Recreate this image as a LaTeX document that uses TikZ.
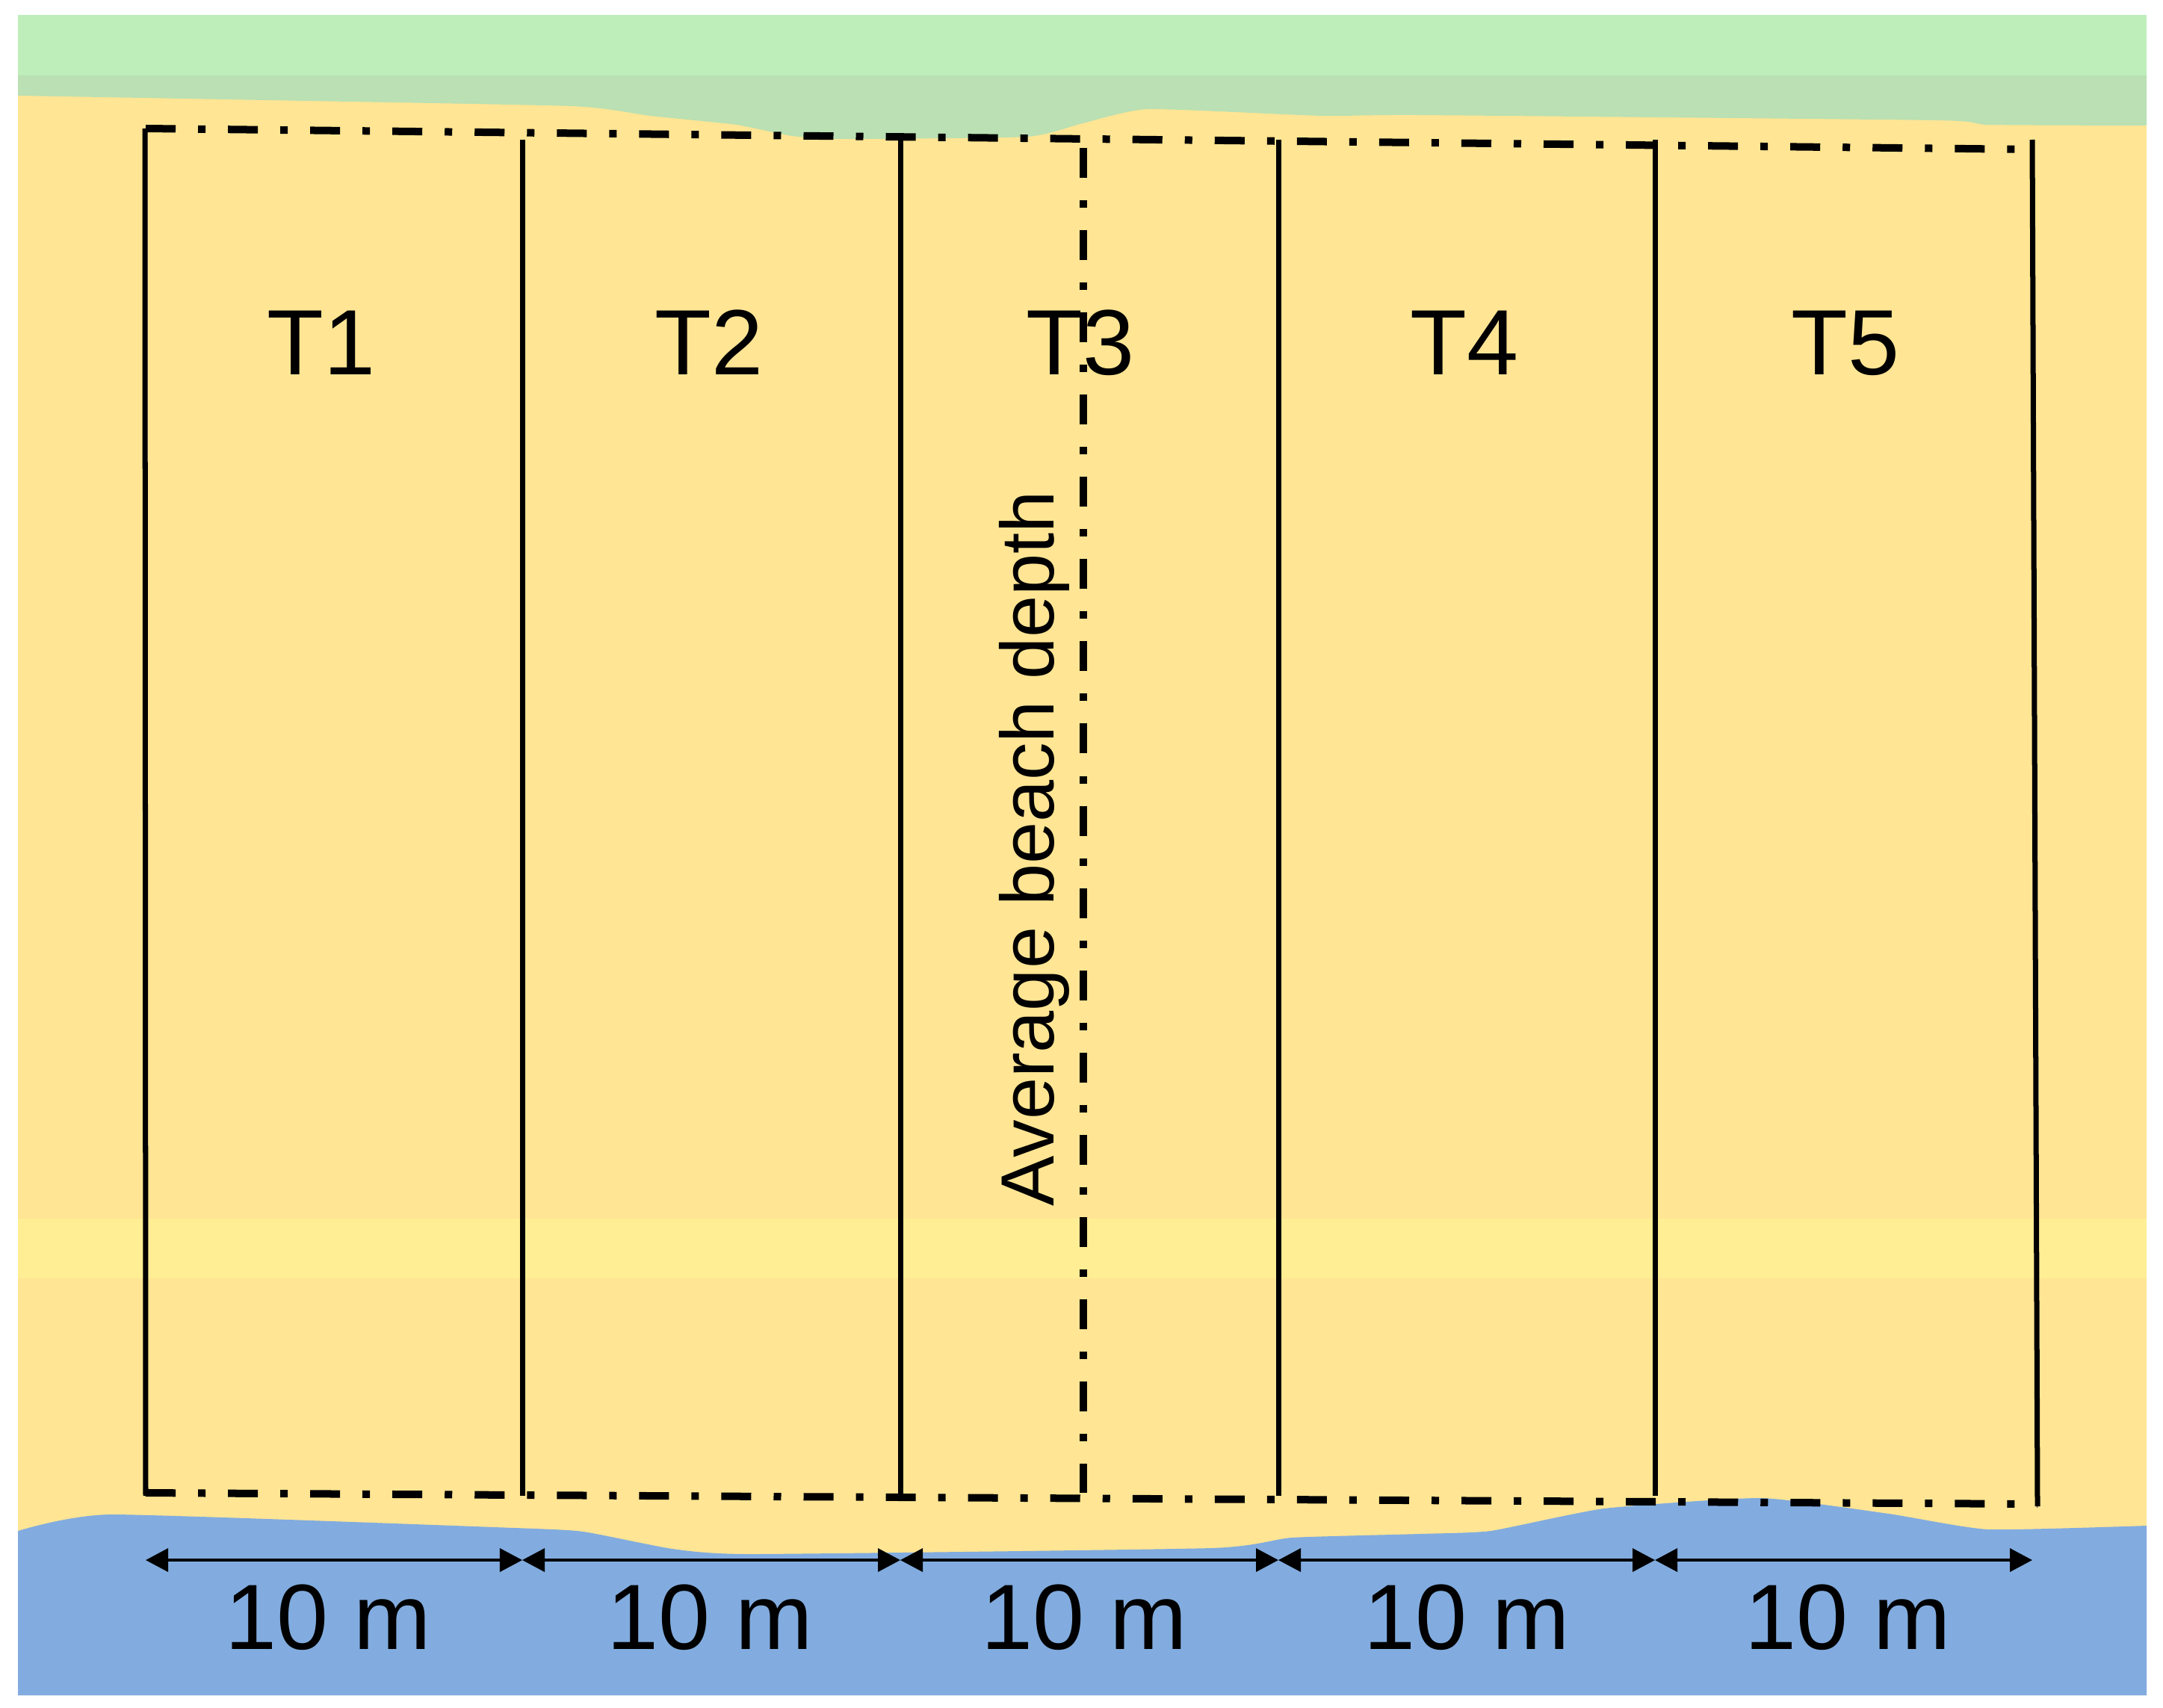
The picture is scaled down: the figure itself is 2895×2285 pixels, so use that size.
\documentclass[tikz,border=0pt]{standalone}
\usepackage{fontspec}
\setmainfont{Liberation Sans}
\usetikzlibrary{arrows.meta}
\definecolor{grass}{HTML}{BEEEBA}
\definecolor{band}{HTML}{BAE0B3}
\definecolor{sand}{HTML}{FFE594}
\definecolor{stripe}{HTML}{FFEE94}
\definecolor{water}{HTML}{82ACDF}
\begin{document}
\begin{tikzpicture}[x=0.01cm,y=-0.01cm,
  solidline/.style={line width=0.07cm, draw=black},
  dashdot/.style={line width=0.1cm, draw=black, dash pattern=on 0.4cm off 0.3cm on 0.1cm off 0.3cm},
  dim/.style={line width=0.035cm, draw=black, {Triangle[length=0.3cm,width=0.31cm]}-{Triangle[length=0.3cm,width=0.31cm]}},
  lab/.style={font=\fontsize{35.3}{40}\selectfont, inner sep=0pt, anchor=base},
  sidelab/.style={font=\fontsize{28.7}{33}\selectfont, inner sep=0pt, anchor=base, rotate=90},
]
\useasboundingbox (0,0) rectangle (2895,2285);
\fill[white] (0,0) rectangle (2895,2285);
% background layers
\fill[grass] (24,20) rectangle (2873,101);
\fill[sand] (24,101) rectangle (2873,2269);
\fill[band] (24,101) -- (2873,101) -- (2873,168) -- plot[smooth, tension=0.3] coordinates {
  (2873,168) (2661,167) (2592,161) (1900,154) (1768,155) (1537,146) (1449,165)
  (1375,183) (1130,186) (1060,182) (986,167) (870,155) (765,142)
  (300,133) (24,128)} -- cycle;
\fill[stripe] (24,1631) rectangle (2873,1711);
\fill[water] plot[smooth, tension=0.3] coordinates {
  (24,2049) (149,2027) (689,2045) (781,2050) (900,2073) (1008,2080)
  (1621,2072) (1729,2058) (1900,2053) (1995,2049) (2147,2019)
  (2357,2005) (2528,2026) (2661,2047) (2873,2042)}
  -- (2873,2269) -- (24,2269) -- cycle;

% transect coordinates
\coordinate (t0top) at (194,172);  \coordinate (t0bot) at (195,2002);
\coordinate (t1top) at (699,187);  \coordinate (t1bot) at (699,2002);
\coordinate (t2top) at (1205,188); \coordinate (t2bot) at (1205,2000);
\coordinate (t3top) at (1711,187); \coordinate (t3bot) at (1711,2002);
\coordinate (t4top) at (2215,187); \coordinate (t4bot) at (2215,2002);
\coordinate (t5top) at (2720,187); \coordinate (t5bot) at (2727,2016);
\coordinate (topL) at (195,172);   \coordinate (topR) at (2720,200);
\coordinate (botL) at (195,1998);  \coordinate (botR) at (2727,2013);
\coordinate (avgT) at (1450,198);  \coordinate (avgB) at (1450,1998);

% labels
\node[lab] (T1) at (430,501) {T1};
\node[lab] (T2) at (949,501) {T2};
\node[lab] (T3) at (1446,501) {T3};
\node[lab] (T4) at (1960,501) {T4};
\node[lab] (T5) at (2470,501) {T5};
\node[sidelab] (avg) at (1410,1136) {Average beach depth};

% lines
\draw[dashdot] (topL) -- (topR);
\draw[dashdot] (botL) -- (botR);
\draw[dashdot] (avgT) -- (avgB);
\foreach \i in {0,...,5} { \draw[solidline] (t\i top) -- (t\i bot); }

% dimension arrows
\coordinate (a0) at (195,2088);
\coordinate (a1) at (699,2088);
\coordinate (a2) at (1205,2088);
\coordinate (a3) at (1711,2088);
\coordinate (a4) at (2215,2088);
\coordinate (a5) at (2720,2088);
\draw[dim] (a0) -- (a1);
\draw[dim] (a1) -- (a2);
\draw[dim] (a2) -- (a3);
\draw[dim] (a3) -- (a4);
\draw[dim] (a4) -- (a5);
\node[lab] (d1) at (439,2207) {10 m};
\node[lab] (d2) at (950,2207) {10 m};
\node[lab] (d3) at (1451,2207) {10 m};
\node[lab] (d4) at (1963,2207) {10 m};
\node[lab] (d5) at (2473,2207) {10 m};
\end{tikzpicture}
\end{document}
